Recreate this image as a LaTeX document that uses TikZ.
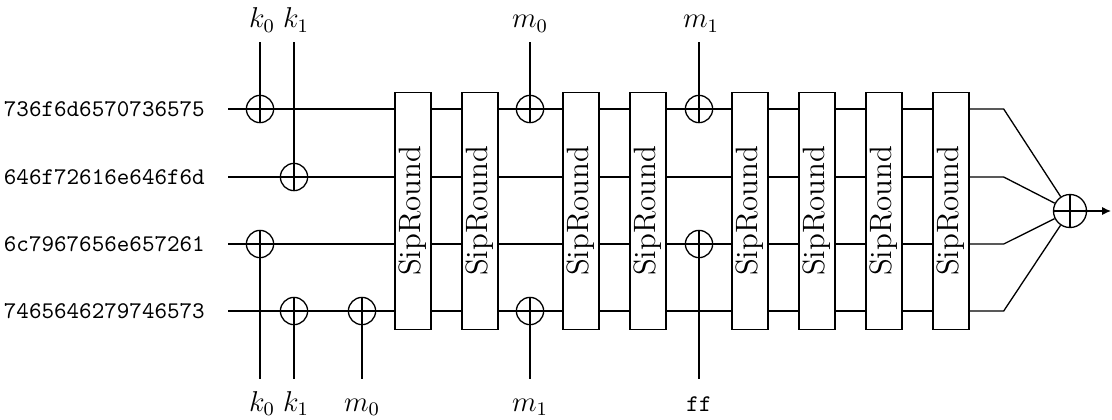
\documentclass[tikz,border=0pt]{standalone}
\usepackage{graphicx}
\usepackage{tikz}
\usetikzlibrary{arrows.meta,calc}
\tikzset{
  wire/.style={line width=0.55pt},
  xorgate/.style={draw, circle, line width=0.55pt, minimum size=4mm, inner sep=0pt,
    path picture={\draw[line width=0.55pt] (path picture bounding box.north) -- (path picture bounding box.south)
      (path picture bounding box.west) -- (path picture bounding box.east);}},
  sipbox/.style={draw, line width=0.55pt, fill=white, minimum width=0.53cm, minimum height=3.48cm, inner sep=0pt, font=\fontsize{12.9}{15}\selectfont},
  hexin/.style={anchor=east, inner xsep=9.5pt, font=\ttfamily},
  keytop/.style={anchor=south, font=\large, text height=8.4pt, text depth=2.4pt},
  keybot/.style={anchor=north, font=\large, text height=8.4pt, text depth=2.4pt, inner ysep=5pt}
}
\begin{document}
\begin{tikzpicture}[x=0.0147cm,y=-0.0147cm]
  \useasboundingbox (0,0) rectangle (1112,419);

  \node[hexin] (iv0) at (228,109) {736f6d6570736575};
  \node[hexin] (iv1) at (228,177) {646f72616e646f6d};
  \node[hexin] (iv2) at (228,244) {6c7967656e657261};
  \node[hexin] (iv3) at (228,311) {7465646279746573};

  \foreach \x [count=\i] in {413,480,581,648,750,817,884,951}
    \node[sipbox] (r\i) at (\x,211) {\rotatebox{90}{SipRound}};

  \node[xorgate] (x0) at (260,109) {};
  \node[xorgate] (x1) at (294,177) {};
  \node[xorgate] (x2) at (260,244) {};
  \node[xorgate] (x3) at (294,311) {};
  \node[xorgate] (x4) at (362,311) {};
  \node[xorgate] (x5) at (530,109) {};
  \node[xorgate] (x6) at (530,311) {};
  \node[xorgate] (x7) at (699,109) {};
  \node[xorgate] (x8) at (699,244) {};
  \node[xorgate, minimum size=4.85mm] (sum) at (1070,211) {};

  \node[keytop] (tk0) at (262,42) {$k_0$};
  \node[keytop] (tk1) at (296,42) {$k_1$};
  \node[keytop] (tm0) at (530,42) {$m_0$};
  \node[keytop] (tm1) at (701,42) {$m_1$};
  \node[keybot] (bk0) at (262,379) {$k_0$};
  \node[keybot] (bk1) at (296,379) {$k_1$};
  \node[keybot] (bm0) at (362,379) {$m_0$};
  \node[keybot] (bm1) at (530,379) {$m_1$};
  \node[keybot] (bff) at (699,379) {\normalsize\texttt{ff}};

  \draw[wire] (iv0) -- (x0) -- (r1.west |- iv0);
  \draw[wire] (iv1) -- (x1) -- (r1.west |- iv1);
  \draw[wire] (iv2) -- (x2) -- (r1.west |- iv2);
  \draw[wire] (iv3) -- (x3) -- (x4) -- (r1.west |- iv3);

  \draw[wire] (tk0.south -| x0) -- (x0);
  \draw[wire] (tk1.south -| x1) -- (x1);
  \draw[wire] (x2) -- (bk0.north -| x2);
  \draw[wire] (x3) -- (bk1.north -| x3);
  \draw[wire] (x4) -- (bm0);

  \foreach \a/\b in {1/2,3/4,5/6,6/7,7/8}
    \foreach \l in {0,...,3}
      \draw[wire] (r\a.east |- iv\l) -- (r\b.west |- iv\l);

  \foreach \l in {1,2} \draw[wire] (r2.east |- iv\l) -- (r3.west |- iv\l);
  \draw[wire] (r2.east |- iv0) -- (x5) -- (r3.west |- iv0);
  \draw[wire] (r2.east |- iv3) -- (x6) -- (r3.west |- iv3);
  \draw[wire] (tm0) -- (x5);
  \draw[wire] (x6) -- (bm1);

  \foreach \l in {1,3} \draw[wire] (r4.east |- iv\l) -- (r5.west |- iv\l);
  \draw[wire] (r4.east |- iv0) -- (x7) -- (r5.west |- iv0);
  \draw[wire] (r4.east |- iv2) -- (x8) -- (r5.west |- iv2);
  \draw[wire] (tm1.south -| x7) -- (x7);
  \draw[wire] (x8) -- (bff);

  \foreach \l in {0,...,3}
    \draw[wire] (r8.east |- iv\l) -- ++(34,0) -- (sum);
  \coordinate (outend) at (1111,211);
  \draw[wire, -{Latex[length=1.3mm, width=1.2mm]}] (sum) -- (outend);
\end{tikzpicture}
\end{document}
